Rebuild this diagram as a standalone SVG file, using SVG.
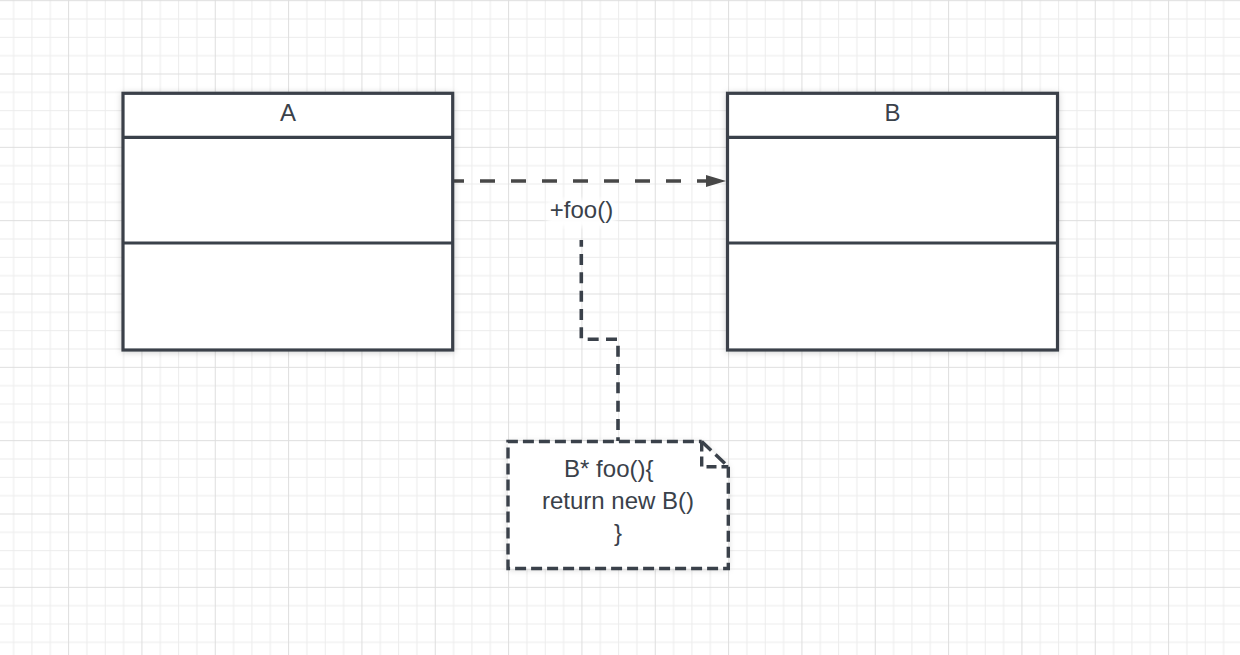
<svg xmlns="http://www.w3.org/2000/svg" width="1240" height="655" viewBox="0 0 1240 655">
  <style>
    .box { fill: #ffffff; stroke: #3a414a; stroke-width: 3.2; }
    .div { stroke: #3a414a; stroke-width: 3.2; fill: none; }
    .txt { font-family: "Liberation Sans", Arial, sans-serif; font-size: 24px; fill: #3a414a; }
    .dep { fill: none; stroke: #474747; stroke-width: 3.6; stroke-dasharray: 15 16; }
    .anchor { fill: none; stroke: #3a414a; stroke-width: 3.6; stroke-dasharray: 11 7.33; stroke-dashoffset: 4.3; }
    .note { fill: none; stroke: #3a414a; stroke-width: 3.4; stroke-dasharray: 11 5; stroke-linejoin: miter; }
    .minor { fill: #ececec; }
    .major { fill: #dedede; }
  </style>
  <defs>
    <pattern id="grid" patternUnits="userSpaceOnUse" x="-5.23" y="0.17" width="73.333" height="73.333">
      <rect class="minor" x="18.33" y="0" width="1" height="73.333"/>
      <rect class="minor" x="36.67" y="0" width="1" height="73.333"/>
      <rect class="minor" x="55" y="0" width="1" height="73.333"/>
      <rect class="minor" x="0" y="18.33" width="73.333" height="1"/>
      <rect class="minor" x="0" y="36.67" width="73.333" height="1"/>
      <rect class="minor" x="0" y="55" width="73.333" height="1"/>
      <rect class="major" x="0" y="0" width="1" height="73.333"/>
      <rect class="major" x="0" y="0" width="73.333" height="1"/>
    </pattern>
    <filter id="shadow" x="-10%" y="-10%" width="120%" height="120%">
      <feDropShadow dx="0" dy="1" stdDeviation="3" flood-color="#000000" flood-opacity="0.18"/>
    </filter>
    <filter id="glow" x="-30%" y="-50%" width="160%" height="200%">
      <feGaussianBlur stdDeviation="2.5"/>
    </filter>
    <marker id="arrow" markerUnits="userSpaceOnUse" markerWidth="22" markerHeight="14" refX="0" refY="7" orient="auto">
      <path d="M0,1 L20,7 L0,13 Z" fill="#474747"/>
    </marker>
  </defs>

  <rect x="0" y="0" width="1240" height="655" fill="#ffffff"/>
  <rect x="0" y="0" width="1240" height="655" fill="url(#grid)"/>

  <g id="connectors">
    <path class="dep" d="M449,181 H706" marker-end="url(#arrow)"/>
    <path class="anchor" d="M581.3,240 V339.3 H618 V441"/>
    <g id="label-foo">
      <rect x="547" y="199" width="69" height="28" rx="6" fill="#ffffff" opacity="0.95" filter="url(#glow)"/>
      <text class="txt" x="581.5" y="218" text-anchor="middle">+foo()</text>
    </g>
  </g>

  <g id="class-A">
    <rect class="box" x="123" y="93.3" width="329.7" height="256.7" filter="url(#shadow)"/>
    <line class="div" x1="123" y1="137.3" x2="452.7" y2="137.3"/>
    <line class="div" x1="123" y1="243" x2="452.7" y2="243"/>
    <text class="txt" x="288" y="121" text-anchor="middle">A</text>
  </g>

  <g id="class-B">
    <rect class="box" x="727.5" y="93.3" width="330" height="256.7" filter="url(#shadow)"/>
    <line class="div" x1="727.5" y1="137.3" x2="1057.5" y2="137.3"/>
    <line class="div" x1="727.5" y1="243" x2="1057.5" y2="243"/>
    <text class="txt" x="892.5" y="121" text-anchor="middle">B</text>
  </g>

  <g id="note">
    <path d="M508,441.5 H701.7 L728.3,466.7 V568.5 H508 Z" fill="#ffffff" filter="url(#shadow)"/>
    <path class="note" d="M728.3,466.7 V568.5 H508 V441.5 H701.7"/>
    <path class="note" d="M701.7,441.5 L728.3,466.7" style="stroke-dasharray: 13 6"/>
    <path class="note" d="M701.7,441.5 V466.7 H728.3" style="stroke-dasharray: 10 5"/>
    <text class="txt" x="608.8" y="477" text-anchor="middle">B* foo(){</text>
    <text class="txt" x="618" y="509" text-anchor="middle">return new B()</text>
    <text class="txt" x="618" y="541" text-anchor="middle">}</text>
  </g>
</svg>
